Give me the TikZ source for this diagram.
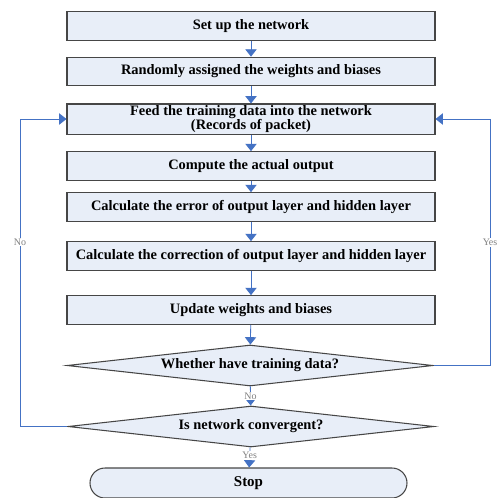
\documentclass[tikz,border=0pt]{standalone}
\usepackage{fontspec}
\setmainfont{Liberation Serif}
\usetikzlibrary{arrows.meta,shapes.geometric}
\definecolor{boxfill}{RGB}{232,238,248}
\definecolor{boxline}{RGB}{70,70,70}
\definecolor{arrblue}{RGB}{68,114,196}
\tikzset{
  stepbox/.style={draw=boxline,line width=0.9pt,fill=boxfill,minimum width=11.04cm,
    minimum height=0.86cm,align=center,inner sep=1pt,font=\fontsize{12.3}{12.5}\selectfont\bfseries},
  decide/.style={diamond,draw=boxline,line width=0.9pt,fill=boxfill,aspect=9,
    inner sep=0pt,minimum width=10.98cm,minimum height=1.23cm,font=\fontsize{12.3}{13}\selectfont\bfseries},
  arr/.style={draw=arrblue,line width=0.7pt,-{Triangle[width=3.4mm,length=2.2mm]}},
  tag/.style={fill=white,text=gray,inner sep=1pt,font=\fontsize{8.5}{9}\selectfont}
}
\begin{document}
\begin{tikzpicture}
   \useasboundingbox (0,0) rectangle (14.97,-14.91);

   % 処理
   \node [stepbox] (setup) at (7.53,-0.78) {Set up the network};
   \node [stepbox] (init) at (7.53,-2.145) {Randomly assigned the weights and biases};
   \node [stepbox] (feed) at (7.53,-3.57) {Feed the training data into the network\\(Records of packet)};
   \node [stepbox] (output) at (7.53,-4.98) {Compute the actual output};
   \node [stepbox] (error) at (7.53,-6.21) {Calculate the error of output layer and hidden layer};
   \node [stepbox] (correct) at (7.53,-7.68) {Calculate the correction of output layer and hidden layer};
   \node [stepbox] (update) at (7.53,-9.3) {Update weights and biases};

   % 判定
   \node [decide] (havedata) at (7.5,-10.965) {Whether have training data?};
   \node [decide] (converge) at (7.53,-12.795) {Is network convergent?};
   \node [draw=boxline,line width=0.9pt,fill=boxfill,rounded corners=0.45cm,minimum width=9.51cm,
     minimum height=0.9cm,font=\fontsize{12.8}{13}\selectfont\bfseries] (stop) at (7.455,-14.49) {Stop};

   \draw [arr] (setup) -- (init);
   \draw [arr] (init) -- (feed);
   \draw [arr] (feed) -- (output);
   \draw [arr] (output) -- (error);
   \draw [arr] (error) -- (correct);
   \draw [arr] (correct) -- (update);
   \draw [arr] (update) -- (havedata);
   \draw [arr] (havedata) -- node [tag] {No} (converge);
   \draw [arr] (converge) -- node [tag,pos=0.4] {Yes} (stop);

   % 戻り線
   \coordinate (leftc) at (0.6,-12.795);
   \coordinate (rightc) at (14.7,-10.965);
   \draw [arr] (converge.west) -- (leftc) |- node [tag,pos=0.3] {No} (feed.west);
   \draw [arr] (havedata.east) -- (rightc) |- node [tag,pos=0.25] {Yes} (feed.east);
\end{tikzpicture}
\end{document}
